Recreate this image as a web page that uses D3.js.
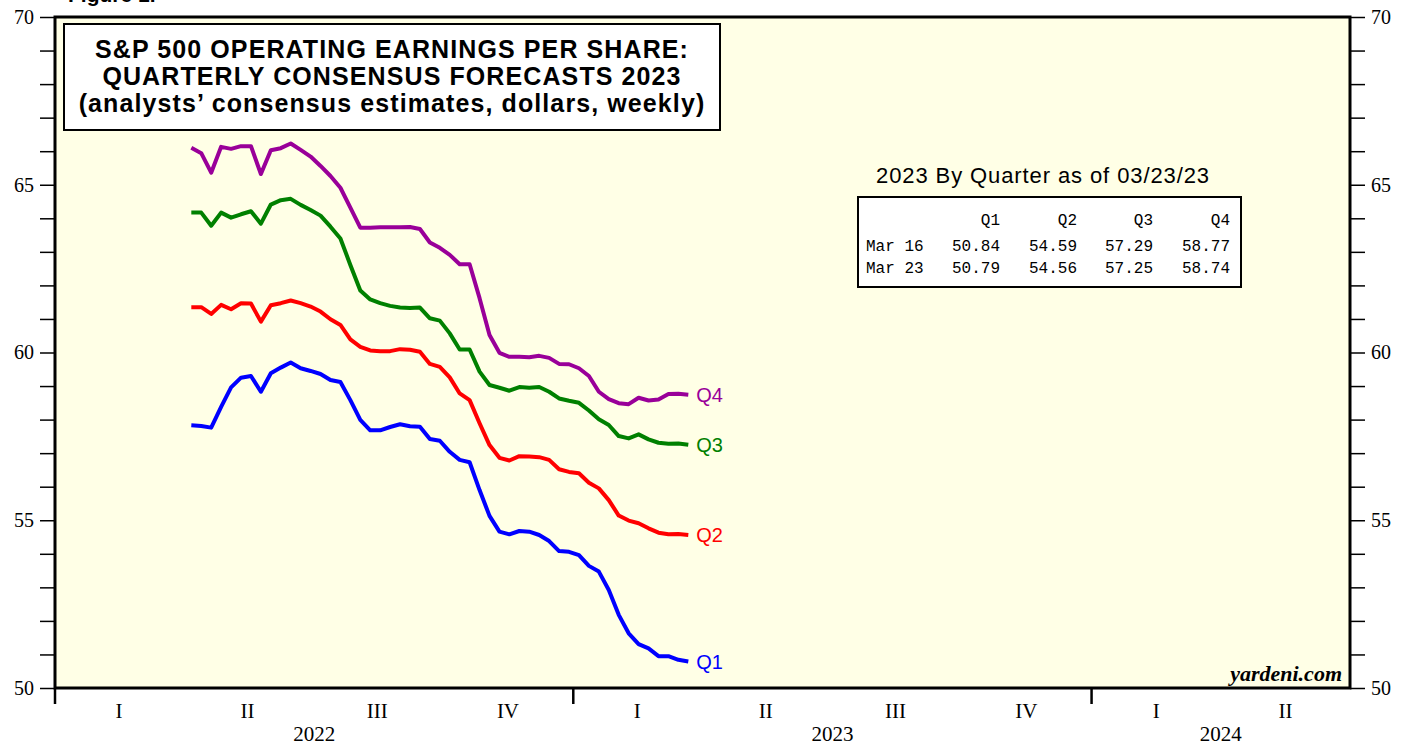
<!DOCTYPE html>
<html lang="en">
<head>
<meta charset="UTF-8">
<title>S&P 500 Operating Earnings per Share: Quarterly Consensus Forecasts 2023</title>
<script src="https://d3js.org/d3.v7.min.js"></script>
<style>
    body { margin: 0; padding: 0; background: #ffffff; }
    svg { display: block; }
    .serif { font-family: "Liberation Serif", "Times New Roman", serif; }
    .sans { font-family: "Liberation Sans", Arial, sans-serif; }
    .mono { font-family: "Liberation Mono", "Courier New", monospace; }
</style>
</head>
<body>
<svg width="1416" height="747"></svg>
<script>
// weekly dates (Thursdays), first 2022-04-07, last 2023-03-23
const startWeek = "2022-04-07";
const weekCount = 51;

// analysts' consensus estimates, dollars, one value per week
const q1Values = [57.83, 57.81, 57.76, 58.38, 58.96, 59.25, 59.30, 58.83, 59.38, 59.55,
    59.70, 59.53, 59.45, 59.36, 59.18, 59.12, 58.58, 57.99, 57.68, 57.68,
    57.78, 57.86, 57.80, 57.79, 57.42, 57.37, 57.04, 56.80, 56.73, 55.90,
    55.13, 54.66, 54.58, 54.68, 54.66, 54.56, 54.38, 54.08, 54.06, 53.96,
    53.64, 53.47, 52.92, 52.18, 51.63, 51.31, 51.18, 50.95, 50.95, 50.84, 50.79];
const q2Values = [61.35, 61.35, 61.15, 61.42, 61.29, 61.47, 61.46, 60.92, 61.41, 61.47,
    61.55, 61.47, 61.37, 61.22, 60.99, 60.82, 60.39, 60.17, 60.06, 60.04,
    60.04, 60.10, 60.08, 60.02, 59.66, 59.57, 59.26, 58.78, 58.58, 57.89,
    57.24, 56.86, 56.78, 56.91, 56.90, 56.88, 56.80, 56.52, 56.44, 56.40,
    56.12, 55.95, 55.60, 55.14, 54.99, 54.91, 54.76, 54.63, 54.58, 54.59, 54.56];
const q3Values = [64.17, 64.17, 63.78, 64.17, 64.02, 64.12, 64.21, 63.84, 64.41, 64.54,
    64.58, 64.40, 64.25, 64.08, 63.75, 63.40, 62.61, 61.85, 61.58, 61.47,
    61.39, 61.34, 61.33, 61.34, 61.02, 60.95, 60.57, 60.09, 60.09, 59.43,
    59.03, 58.95, 58.86, 58.97, 58.95, 58.97, 58.83, 58.63, 58.56, 58.50,
    58.27, 58.01, 57.84, 57.51, 57.44, 57.56, 57.41, 57.31, 57.28, 57.29, 57.25];
const q4Values = [66.10, 65.94, 65.36, 66.13, 66.07, 66.15, 66.15, 65.32, 66.03, 66.09,
    66.23, 66.04, 65.84, 65.56, 65.26, 64.91, 64.32, 63.72, 63.72, 63.73,
    63.73, 63.73, 63.74, 63.68, 63.28, 63.12, 62.91, 62.63, 62.63, 61.62,
    60.52, 59.99, 59.87, 59.87, 59.86, 59.90, 59.84, 59.66, 59.65, 59.53,
    59.30, 58.83, 58.61, 58.49, 58.46, 58.65, 58.57, 58.60, 58.76, 58.77, 58.74];

const seriesNames = ["Q1", "Q2", "Q3", "Q4"];
const seriesColors = ["#0000ff", "#ff0000", "#008000", "#990099"];

// summary table
const tableTitle = "2023 By Quarter as of 03/23/23";
const tableRows = ["Mar 16", "Mar 23"];
const tableMar16 = [50.84, 54.59, 57.29, 58.77];
const tableMar23 = [50.79, 54.56, 57.25, 58.74];

const titleLines = [
    "S&P 500 OPERATING EARNINGS PER SHARE:",
    "QUARTERLY CONSENSUS FORECASTS 2023",
    "(analysts\u2019 consensus estimates, dollars, weekly)"
];
const quarterLabels = ["I", "II", "III", "IV"];
const yearLabels = [2022, 2023, 2024];

const svg = d3.select("svg");
const margin = { left: 55, right: 66, top: 17, bottom: 59 };
const width = +svg.attr("width");
const height = +svg.attr("height");
const x0 = margin.left, x1 = width - margin.right;
const y0 = margin.top, y1 = height - margin.bottom;

const parse = d3.utcParse("%Y-%m-%d");
const weeks = d3.utcThursday.range(parse(startWeek), d3.utcDay.offset(parse(startWeek), weekCount * 7));
const xStart = parse("2022-01-01"), xEnd = parse("2024-07-01");

const x = d3.scaleUtc().domain([xStart, xEnd]).range([x0, x1]);
const y = d3.scaleLinear().domain([50, 70]).range([y1, y0]);

// partially visible figure heading, cut at the top edge
svg.append("text")
    .attr("class", "sans")
    .attr("x", 68).attr("y", 2)
    .style("font-size", "21px").style("font-weight", "bold")
    .text("Figure 1.");

// plot background
svg.append("rect")
    .attr("x", x0).attr("y", y0)
    .attr("width", x1 - x0).attr("height", y1 - y0)
    .attr("fill", "#ffffe6");

// y axes
const yTicks = d3.range(50, 71, 1);
const leftAxis = d3.axisLeft(y).tickValues(yTicks).tickSize(15)
    .tickFormat(d => d % 5 === 0 ? d : "");
const rightAxis = d3.axisRight(y).tickValues(yTicks).tickSize(15)
    .tickFormat(d => d % 5 === 0 ? d : "");

function styleAxis(g) {
    g.select(".domain").remove();
    g.selectAll(".tick line").attr("stroke", "#000").attr("stroke-width", 1.5);
    g.selectAll(".tick text")
        .attr("class", "serif")
        .style("font-size", "20px")
        .attr("fill", "#000");
}
svg.append("g").attr("transform", `translate(${x0},0)`).call(leftAxis).call(styleAxis)
    .selectAll(".tick text").attr("x", -21);
svg.append("g").attr("transform", `translate(${x1},0)`).call(rightAxis).call(styleAxis)
    .selectAll(".tick text").attr("x", 21);

// x axis: year ticks, quarter labels, year labels
const years = d3.utcYear.range(xStart, xEnd);
svg.append("g").selectAll("line")
    .data(years)
    .join("line")
    .attr("x1", d => x(d)).attr("x2", d => x(d))
    .attr("y1", y1).attr("y2", y1 + 16)
    .attr("stroke", "#000").attr("stroke-width", 2.5);

const quarters = d3.utcMonth.every(3).range(xStart, xEnd);
svg.append("g").selectAll("text")
    .data(quarters)
    .join("text")
    .attr("class", "serif")
    .attr("x", d => (x(d) + x(d3.utcMonth.offset(d, 3))) / 2)
    .attr("y", y1 + 30)
    .attr("text-anchor", "middle")
    .style("font-size", "21px")
    .text(d => quarterLabels[Math.floor(d.getUTCMonth() / 3)]);

svg.append("g").selectAll("text")
    .data(yearLabels)
    .join("text")
    .attr("class", "serif")
    .attr("x", d => {
        const a = x(d3.max([xStart, parse(d + "-01-01")]));
        const b = x(d3.min([xEnd, parse((d + 1) + "-01-01")]));
        return (a + b) / 2;
    })
    .attr("y", y1 + 53)
    .attr("text-anchor", "middle")
    .style("font-size", "21px")
    .text(d => d);

// series lines
const seriesValues = [q1Values, q2Values, q3Values, q4Values];
const line = d3.line()
    .x((d, i) => x(weeks[i]))
    .y(d => y(d));

svg.append("g").selectAll("path")
    .data(seriesValues)
    .join("path")
    .attr("fill", "none")
    .attr("stroke", (d, i) => seriesColors[i])
    .attr("stroke-width", 4)
    .attr("stroke-linejoin", "round")
    .attr("d", line);

svg.append("g").selectAll("text")
    .data(seriesValues)
    .join("text")
    .attr("class", "sans")
    .attr("x", x(weeks[weekCount - 1]) + 8)
    .attr("y", d => y(d[d.length - 1]))
    .attr("dy", "0.36em")
    .attr("fill", (d, i) => seriesColors[i])
    .style("font-size", "20px")
    .text((d, i) => seriesNames[i]);

// frame
svg.append("rect")
    .attr("x", x0).attr("y", y0)
    .attr("width", x1 - x0).attr("height", y1 - y0)
    .attr("fill", "none")
    .attr("stroke", "#000")
    .attr("stroke-width", 3);

// title box
const title = svg.append("g");
title.append("rect")
    .attr("x", 64).attr("y", 24)
    .attr("width", 656).attr("height", 106)
    .attr("fill", "#fff").attr("stroke", "#000").attr("stroke-width", 2);
title.selectAll("text")
    .data(titleLines)
    .join("text")
    .attr("class", "sans")
    .attr("x", 392)
    .attr("y", (d, i) => 58 + i * 27)
    .attr("text-anchor", "middle")
    .style("font-size", "25px")
    .style("letter-spacing", "1.1px")
    .style("font-weight", "bold")
    .text(d => d);

// summary table
const table = svg.append("g");
table.append("text")
    .attr("class", "sans")
    .attr("x", 1043).attr("y", 183)
    .attr("text-anchor", "middle")
    .style("font-size", "22px")
    .style("letter-spacing", "0.9px")
    .text(tableTitle);
table.append("rect")
    .attr("x", 858).attr("y", 197)
    .attr("width", 383).attr("height", 90)
    .attr("fill", "#fff").attr("stroke", "#000").attr("stroke-width", 2);

const colX = [1000, 1077, 1153, 1230];
const rowY = [225, 251, 273];
table.selectAll(".head")
    .data(seriesNames)
    .join("text")
    .attr("class", "mono head")
    .attr("x", (d, i) => colX[i]).attr("y", rowY[0])
    .attr("text-anchor", "end")
    .style("font-size", "16px")
    .text(d => d);
[tableMar16, tableMar23].forEach((vals, r) => {
    table.append("text")
        .attr("class", "mono")
        .attr("x", 866).attr("y", rowY[r + 1])
        .style("font-size", "16px")
        .text(tableRows[r]);
    table.selectAll(".row" + r)
        .data(vals)
        .join("text")
        .attr("class", "mono row" + r)
        .attr("x", (d, i) => colX[i]).attr("y", rowY[r + 1])
        .attr("text-anchor", "end")
        .style("font-size", "16px")
        .text(d => d.toFixed(2));
});

// source
svg.append("text")
    .attr("class", "serif")
    .attr("x", x1 - 8).attr("y", y1 - 7)
    .attr("text-anchor", "end")
    .style("font-size", "22px")
    .style("font-weight", "bold")
    .style("font-style", "italic")
    .text("yardeni.com");
</script>
</body>
</html>
